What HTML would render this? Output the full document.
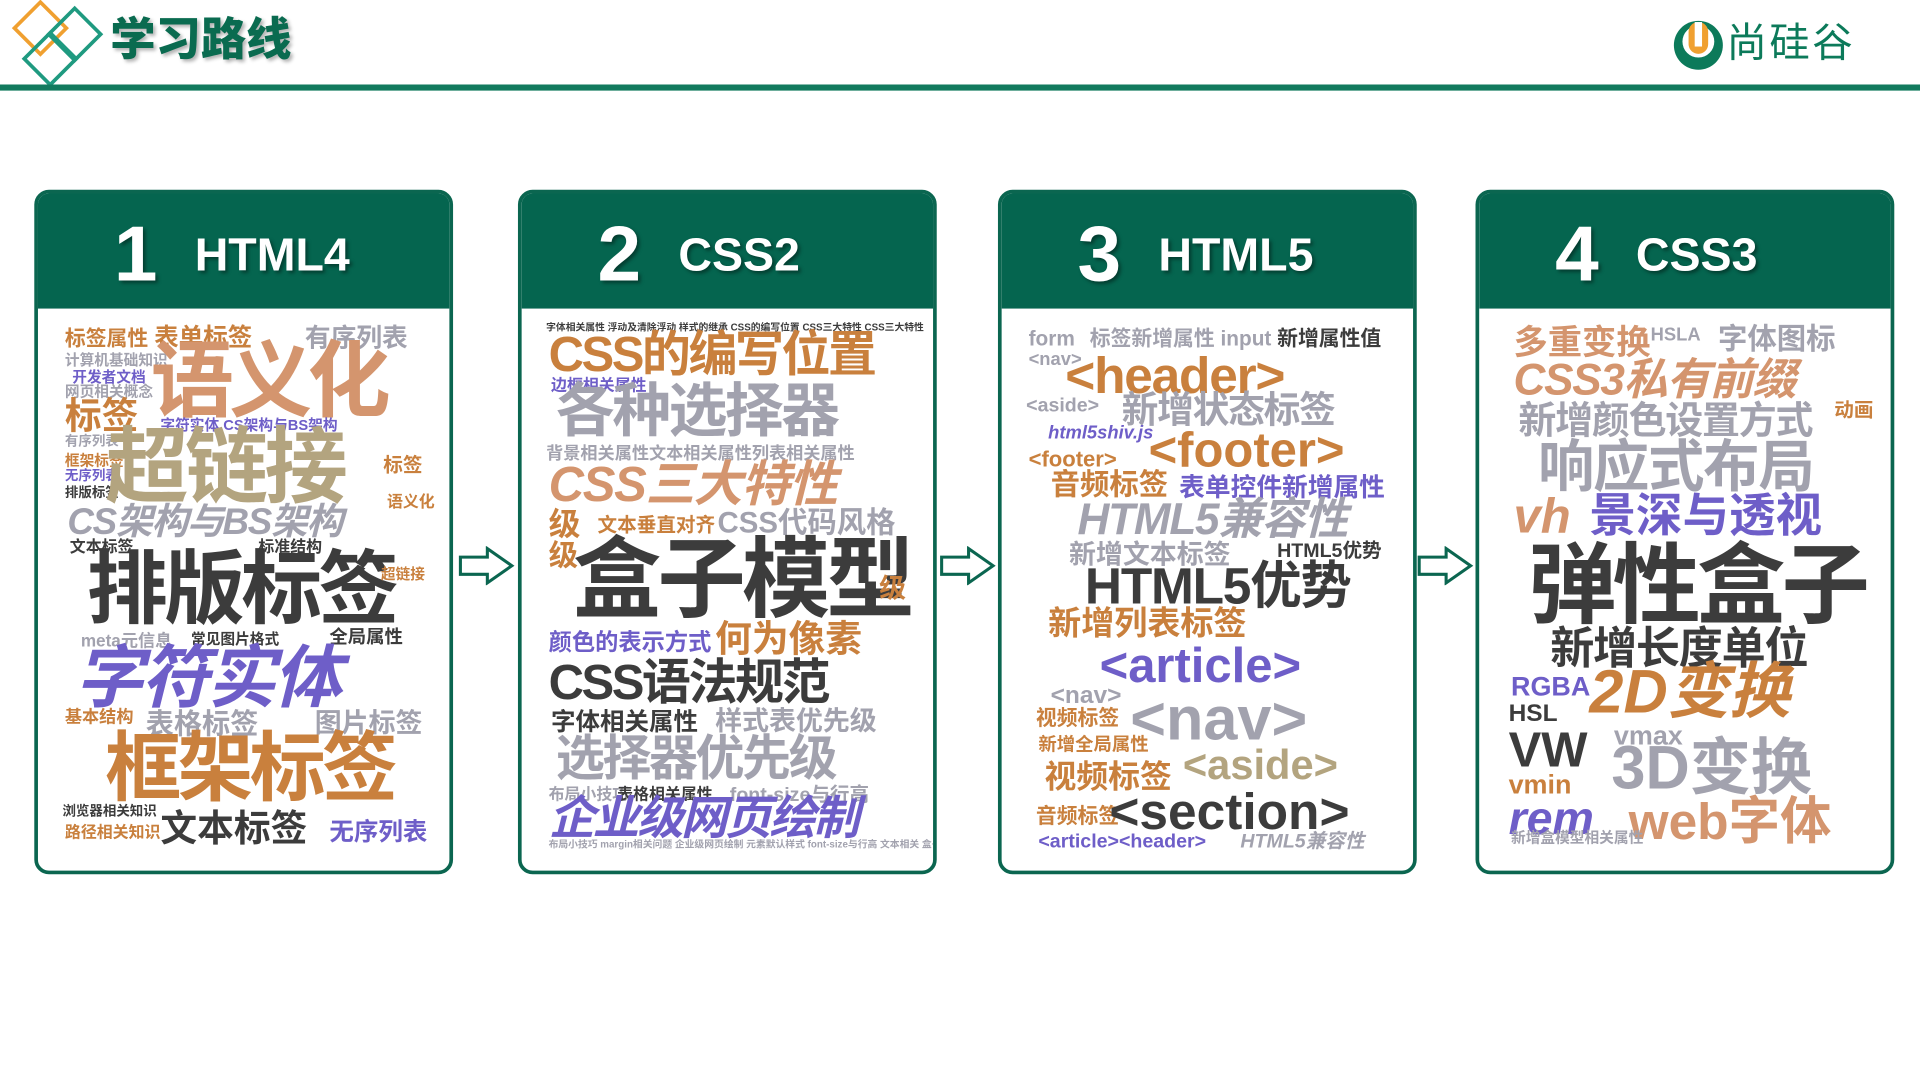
<!DOCTYPE html>
<html><head><meta charset="utf-8">
<style>
html,body{margin:0;padding:0;background:#fff;width:1920px;height:1080px;overflow:hidden}
#s{position:absolute;left:0;top:0;width:1568px;height:881px;transform:scale(1.22449);transform-origin:0 0;font-family:"Liberation Sans","Noto Sans CJK SC",sans-serif}
.card{position:absolute;top:155px;width:336px;height:553px;border:3px solid #0b6650;border-radius:12px;background:#fff;overflow:hidden}
.hd{position:absolute;left:0;top:0;right:0;height:94px;background:#05654f;color:#fff}
.num{position:absolute;left:62px;top:12px;font:bold 64px "Liberation Sans",sans-serif;text-shadow:2px 2px 3px rgba(0,0,0,.4)}
.lab{position:absolute;left:128px;top:30px;font:bold 38px "Liberation Sans",sans-serif;text-shadow:2px 2px 3px rgba(0,0,0,.4)}
.w{position:absolute;white-space:nowrap;line-height:1;font-weight:bold;font-family:"Liberation Sans","Noto Sans CJK SC",sans-serif}
.t{color:#c9803d}.s{color:#d4956e}.k{color:#b3a47f}.g{color:#a2a2ae}.d{color:#3c3c3c}.p{color:#6e5ec8}
</style></head><body><div id="s">
<svg style="position:absolute;left:0;top:0" width="90" height="75">
<rect x="18" y="8" width="30" height="30" transform="rotate(45 33 23)" fill="none" stroke="#f0a030" stroke-width="3"/>
<rect x="46" y="13" width="30" height="30" transform="rotate(45 61 28)" fill="none" stroke="#1f9a80" stroke-width="3"/>
<rect x="26" y="33" width="30" height="30" transform="rotate(45 41 48)" fill="none" stroke="#1f9a80" stroke-width="3"/>
</svg>
<div class="w" style="left:90px;top:14px;font-size:37px;color:#0a6b50;font-weight:900;text-shadow:2px 2px 3px rgba(0,0,0,.3)">学习路线</div>
<svg style="position:absolute;left:1365px;top:15px" width="45" height="45"><circle cx="22" cy="22" r="20" fill="#0c7a5a"/><circle cx="22" cy="19" r="13" fill="#fff"/><rect x="14" y="3" width="16" height="26" rx="8" fill="#f0a030"/><rect x="19" y="3" width="6" height="20" fill="#fff"/></svg>
<div class="w" style="left:1410px;top:18px;font-size:33px;color:#0c7a5a;font-weight:normal;letter-spacing:2px">尚硅谷</div>
<div style="position:absolute;left:0;top:69px;width:1568px;height:5px;background:#127a5e"></div>

<svg style="position:absolute;left:374px;top:446px" width="48" height="32"><polygon points="2,9 24,9 24,2 44,16 24,30 24,23 2,23" fill="#fff" stroke="#0b6650" stroke-width="2.5"/></svg>
<svg style="position:absolute;left:767px;top:446px" width="48" height="32"><polygon points="2,9 24,9 24,2 44,16 24,30 24,23 2,23" fill="#fff" stroke="#0b6650" stroke-width="2.5"/></svg>
<svg style="position:absolute;left:1157px;top:446px" width="48" height="32"><polygon points="2,9 24,9 24,2 44,16 24,30 24,23 2,23" fill="#fff" stroke="#0b6650" stroke-width="2.5"/></svg>

<!-- card1 -->
<div class="card" style="left:28px"><div class="hd"><div class="num">1</div><div class="lab">HTML4</div></div>
<div class="w t" style="left:22px;top:110px;font-size:17px">标签属性</div>
<div class="w t" style="left:95px;top:108px;font-size:20px">表单标签</div>
<div class="w g" style="left:218px;top:108px;font-size:21px">有序列表</div>
<div class="w g" style="left:22px;top:130px;font-size:12px">计算机基础知识</div>
<div class="w p" style="left:28px;top:144px;font-size:12px">开发者文档</div>
<div class="w g" style="left:22px;top:156px;font-size:12px">网页相关概念</div>
<div class="w s" style="left:92px;top:120px;font-size:68px;letter-spacing:-4px">语义化</div>
<div class="w t" style="left:22px;top:168px;font-size:30px">标签</div>
<div class="w g" style="left:22px;top:198px;font-size:11px">有序列表</div>
<div class="w t" style="left:22px;top:212px;font-size:12px">框架标签</div>
<div class="w p" style="left:22px;top:226px;font-size:11px">无序列表</div>
<div class="w d" style="left:22px;top:240px;font-size:11px">排版标签</div>
<div class="w p" style="left:100px;top:183px;font-size:12px">字符实体 CS架构与BS架构</div>
<div class="w k" style="left:55px;top:190px;font-size:68px;letter-spacing:-3px">超链接</div>
<div class="w t" style="left:282px;top:215px;font-size:16px">标签</div>
<div class="w t" style="left:285px;top:245px;font-size:13px">语义化</div>
<div class="w g" style="left:24px;top:254px;font-size:30px;letter-spacing:-1px;font-style:italic">CS架构与BS架构</div>
<div class="w d" style="left:26px;top:282px;font-size:13px">文本标签</div>
<div class="w d" style="left:180px;top:282px;font-size:13px">标准结构</div>
<div class="w d" style="left:40px;top:290px;font-size:66px;letter-spacing:-3px">排版标签</div>
<div class="w t" style="left:280px;top:305px;font-size:12px">超链接</div>
<div class="w g" style="left:35px;top:358px;font-size:14px">meta元信息</div>
<div class="w d" style="left:125px;top:358px;font-size:12px">常见图片格式</div>
<div class="w d" style="left:238px;top:355px;font-size:15px">全局属性</div>
<div class="w p" style="left:30px;top:368px;font-size:56px;letter-spacing:-2px;font-style:italic">字符实体</div>
<div class="w t" style="left:22px;top:420px;font-size:14px">基本结构</div>
<div class="w g" style="left:88px;top:422px;font-size:23px">表格标签</div>
<div class="w g" style="left:226px;top:422px;font-size:22px">图片标签</div>
<div class="w t" style="left:55px;top:440px;font-size:62px;letter-spacing:-3px">框架标签</div>
<div class="w d" style="left:20px;top:500px;font-size:11px">浏览器相关知识</div>
<div class="w t" style="left:22px;top:515px;font-size:13px">路径相关知识</div>
<div class="w d" style="left:100px;top:505px;font-size:30px">文本标签</div>
<div class="w p" style="left:238px;top:512px;font-size:20px">无序列表</div>
</div>

<!-- card2 -->
<div class="card" style="left:423px"><div class="hd"><div class="num">2</div><div class="lab">CSS2</div></div>
<div class="w d" style="left:20px;top:106px;font-size:8px">字体相关属性 浮动及清除浮动 样式的继承 CSS的编写位置 CSS三大特性 CSS三大特性</div>
<div class="w t" style="left:22px;top:112px;font-size:40px;letter-spacing:-2px">CSS的编写位置</div>
<div class="w p" style="left:24px;top:150px;font-size:13px">边框相关属性</div>
<div class="w g" style="left:28px;top:155px;font-size:48px;letter-spacing:-2px">各种选择器</div>
<div class="w g" style="left:20px;top:205px;font-size:14px">背景相关属性文本相关属性列表相关属性</div>
<div class="w s" style="left:22px;top:218px;font-size:40px;font-style:italic;letter-spacing:-1px">CSS三大特性</div>
<div class="w t" style="left:22px;top:257px;font-size:26px">级</div>
<div class="w t" style="left:62px;top:264px;font-size:16px">文本垂直对齐</div>
<div class="w g" style="left:160px;top:258px;font-size:24px">CSS代码风格</div>
<div class="w t" style="left:22px;top:285px;font-size:24px">级</div>
<div class="w d" style="left:42px;top:280px;font-size:72px;letter-spacing:-3px">盒子模型</div>
<div class="w t" style="left:292px;top:312px;font-size:22px">级</div>
<div class="w p" style="left:22px;top:358px;font-size:19px">颜色的表示方式</div>
<div class="w t" style="left:158px;top:350px;font-size:30px">何为像素</div>
<div class="w d" style="left:22px;top:380px;font-size:40px;letter-spacing:-2px">CSS语法规范</div>
<div class="w d" style="left:24px;top:422px;font-size:20px">字体相关属性</div>
<div class="w g" style="left:158px;top:420px;font-size:22px">样式表优先级</div>
<div class="w g" style="left:28px;top:442px;font-size:40px;letter-spacing:-2px">选择器优先级</div>
<div class="w g" style="left:22px;top:484px;font-size:13px">布局小技巧</div>
<div class="w d" style="left:78px;top:484px;font-size:13px">表格相关属性</div>
<div class="w g" style="left:170px;top:484px;font-size:16px">font-size与行高</div>
<div class="w p" style="left:22px;top:492px;font-size:38px;letter-spacing:-2px;font-style:italic">企业级网页绘制</div>
<div class="w g" style="left:22px;top:528px;font-size:8px">布局小技巧 margin相关问题 企业级网页绘制 元素默认样式 font-size与行高 文本相关 盒子模型</div>
</div>

<!-- card3 -->
<div class="card" style="left:815px"><div class="hd"><div class="num">3</div><div class="lab">HTML5</div></div>
<div class="w g" style="left:22px;top:110px;font-size:17px">form</div>
<div class="w g" style="left:72px;top:110px;font-size:17px">标签新增属性 input</div>
<div class="w d" style="left:225px;top:110px;font-size:17px">新增属性值</div>
<div class="w g" style="left:22px;top:128px;font-size:15px">&lt;nav&gt;</div>
<div class="w t" style="left:52px;top:128px;font-size:42px;letter-spacing:-1px">&lt;header&gt;</div>
<div class="w g" style="left:20px;top:166px;font-size:16px">&lt;aside&gt;</div>
<div class="w g" style="left:98px;top:163px;font-size:30px;letter-spacing:-1px">新增状态标签</div>
<div class="w p" style="left:38px;top:188px;font-size:15px;font-style:italic">html5shiv.js</div>
<div class="w t" style="left:22px;top:208px;font-size:18px">&lt;footer&gt;</div>
<div class="w t" style="left:120px;top:190px;font-size:40px">&lt;footer&gt;</div>
<div class="w t" style="left:40px;top:227px;font-size:24px">音频标签</div>
<div class="w p" style="left:145px;top:230px;font-size:21px">表单控件新增属性</div>
<div class="w g" style="left:62px;top:248px;font-size:36px;font-style:italic;letter-spacing:-1px">HTML5兼容性</div>
<div class="w g" style="left:55px;top:284px;font-size:22px">新增文本标签</div>
<div class="w d" style="left:225px;top:285px;font-size:16px">HTML5优势</div>
<div class="w d" style="left:68px;top:300px;font-size:42px;letter-spacing:-1px">HTML5优势</div>
<div class="w t" style="left:38px;top:338px;font-size:27px">新增列表标签</div>
<div class="w p" style="left:80px;top:366px;font-size:40px">&lt;article&gt;</div>
<div class="w g" style="left:40px;top:400px;font-size:20px">&lt;nav&gt;</div>
<div class="w g" style="left:105px;top:404px;font-size:50px">&lt;nav&gt;</div>
<div class="w t" style="left:28px;top:420px;font-size:17px">视频标签</div>
<div class="w t" style="left:30px;top:443px;font-size:15px">新增全局属性</div>
<div class="w t" style="left:35px;top:463px;font-size:26px">视频标签</div>
<div class="w k" style="left:148px;top:450px;font-size:34px">&lt;aside&gt;</div>
<div class="w t" style="left:28px;top:500px;font-size:17px">音频标签</div>
<div class="w d" style="left:88px;top:484px;font-size:42px">&lt;section&gt;</div>
<div class="w p" style="left:30px;top:522px;font-size:16px">&lt;article&gt;&lt;header&gt;</div>
<div class="w g" style="left:195px;top:522px;font-size:16px;font-style:italic">HTML5兼容性</div>
</div>

<!-- card4 -->
<div class="card" style="left:1205px"><div class="hd"><div class="num">4</div><div class="lab">CSS3</div></div>
<div class="w s" style="left:28px;top:108px;font-size:28px">多重变换</div>
<div class="w g" style="left:140px;top:108px;font-size:15px">HSLA</div>
<div class="w g" style="left:195px;top:108px;font-size:24px">字体图标</div>
<div class="w s" style="left:28px;top:134px;font-size:36px;letter-spacing:-1px;font-style:italic">CSS3私有前缀</div>
<div class="w g" style="left:32px;top:170px;font-size:31px;letter-spacing:-1px">新增颜色设置方式</div>
<div class="w t" style="left:290px;top:170px;font-size:16px">动画</div>
<div class="w g" style="left:48px;top:200px;font-size:46px;letter-spacing:-1px">响应式布局</div>
<div class="w s" style="left:28px;top:244px;font-size:40px;font-style:italic">vh</div>
<div class="w p" style="left:90px;top:245px;font-size:38px">景深与透视</div>
<div class="w d" style="left:40px;top:285px;font-size:72px;letter-spacing:-3px">弹性盒子</div>
<div class="w d" style="left:58px;top:354px;font-size:36px;letter-spacing:-1px">新增长度单位</div>
<div class="w p" style="left:26px;top:392px;font-size:22px">RGBA</div>
<div class="w t" style="left:90px;top:382px;font-size:50px;font-style:italic">2D变换</div>
<div class="w d" style="left:24px;top:415px;font-size:20px">HSL</div>
<div class="w d" style="left:24px;top:435px;font-size:40px">VW</div>
<div class="w g" style="left:110px;top:432px;font-size:22px">vmax</div>
<div class="w g" style="left:108px;top:444px;font-size:50px">3D变换</div>
<div class="w t" style="left:24px;top:472px;font-size:22px">vmin</div>
<div class="w p" style="left:24px;top:492px;font-size:38px;font-style:italic">rem</div>
<div class="w s" style="left:122px;top:492px;font-size:42px">web字体</div>
<div class="w g" style="left:26px;top:520px;font-size:12px">新增盒模型相关属性</div>
</div>
</div></body></html>
